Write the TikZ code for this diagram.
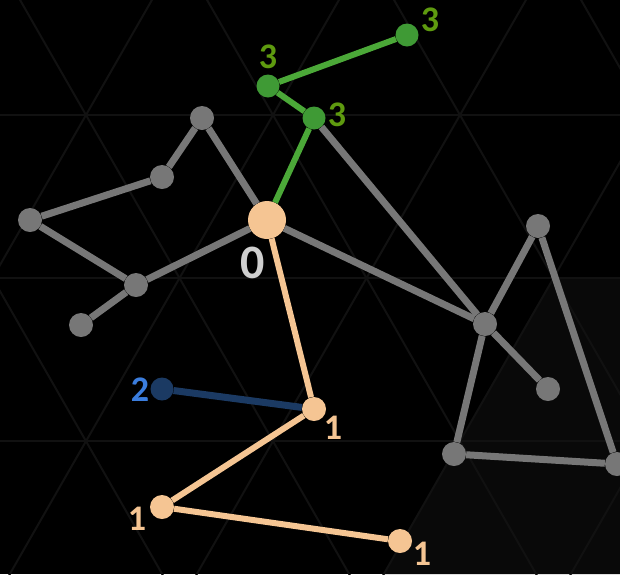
\documentclass[tikz,border=0pt]{standalone}
\usepackage{fontspec}
\setmainfont{Carlito}
\usepackage{tikz}

\definecolor{bgline}{HTML}{111111}
\definecolor{bgshade}{HTML}{090909}
\definecolor{nodegray}{HTML}{777777}
\definecolor{peach}{HTML}{F5C593}
\definecolor{grnode}{HTML}{3F9A35}
\definecolor{gredge}{HTML}{4BA838}
\definecolor{grlabel}{HTML}{5E9A0F}
\definecolor{navy}{HTML}{1B3A63}
\definecolor{bluelabel}{HTML}{3B7DDD}
\definecolor{rootlabel}{HTML}{CFCFCF}

\begin{document}
\begin{tikzpicture}[x=1pt,y=-1pt,
  v/.style={circle,fill=nodegray,inner sep=0pt,minimum size=24pt},
  root/.style={circle,fill=peach,inner sep=0pt,minimum size=38pt},
  pv/.style={circle,fill=peach,inner sep=0pt,minimum size=24pt},
  gv/.style={circle,fill=grnode,inner sep=0pt,minimum size=23pt},
  bv/.style={circle,fill=navy,inner sep=0pt,minimum size=23pt},
  e/.style={draw=nodegray,line width=7pt},
  pe/.style={draw=peach,line width=6pt},
  ge/.style={draw=gredge,line width=6pt},
  be/.style={draw=navy,line width=7pt},
  dist/.style={font=\fontsize{36}{36}\selectfont\bfseries}]

  % Background
  \fill[black] (0,0) rectangle (620,574);
  \useasboundingbox (0,0) rectangle (620,574);
  \begin{scope}
    \clip (0,0) rectangle (620,574);
    \fill[bgshade] (553,278) -- (620,278) -- (620,574) -- (383,574) -- cycle;
    \foreach \y in {115,278,441}
      \draw[bgline,line width=2pt] (0,\y) -- (620,\y);
    \foreach \k in {-3,...,4} {
      \draw[bgline,line width=2pt] (86+187*\k-344,-485) -- (86+187*\k+344,715);
      \draw[bgline,line width=2pt] (86+187*\k+344,-485) -- (86+187*\k-344,715);
    }
  \end{scope}

  % Root
  \node[root] (r) at (267,220) {};
  \node[dist,font=\fontsize{48}{48}\selectfont\bfseries,text=rootlabel] (lr) at (253,263) {0};

  % Gray nodes
  \node[v] (a) at (202,118) {};
  \node[v] (b) at (162,177) {};
  \node[v] (c) at (30,220) {};
  \node[v] (d) at (136,285) {};
  \node[v] (f) at (81,325) {};
  \node[v] (h) at (485,324) {};
  \node[v] (t) at (538,226) {};
  \node[v] (s) at (548,389) {};
  \node[v] (i) at (454,454) {};
  \node[v] (j) at (617,464) {};

  % Distance 3
  \node[gv] (g1) at (268,86) {};
  \node[gv] (g2) at (314,118) {};
  \node[gv] (g3) at (407,35) {};
  \node[dist,text=grlabel] (lg1) at (268,57) {3};
  \node[dist,text=grlabel] (lg2) at (337,115) {3};
  \node[dist,text=grlabel] (lg3) at (430,20) {3};

  % Distance 1
  \node[pv] (p1) at (314,409) {};
  \node[pv] (p2) at (162,507) {};
  \node[pv] (p3) at (400,541) {};
  \node[dist,text=peach] (lp1) at (333,428) {1};
  \node[dist,text=peach] (lp2) at (137,519) {1};
  \node[dist,text=peach] (lp3) at (422,554) {1};

  % Distance 2
  \node[bv] (q) at (162,389) {};
  \node[dist,text=bluelabel] (lq) at (140,390) {2};

  % Gray edges
  \draw[e] (r) -- (a);
  \draw[e] (a) -- (b);
  \draw[e] (b) -- (c);
  \draw[e] (c) -- (d);
  \draw[e] (d) -- (r);
  \draw[e] (d) -- (f);
  \draw[e] (r) -- (h);
  \draw[e] (g2) -- (h);
  \draw[e] (h) -- (t);
  \draw[e] (t) -- (j);
  \draw[e] (h) -- (s);
  \draw[e] (h) -- (i);
  \draw[e] (i) -- (j);

  % Colored edges
  \draw[ge] (r) -- (g2);
  \draw[ge] (g2) -- (g1);
  \draw[ge] (g1) -- (g3);
  \draw[pe] (r) -- (p1);
  \draw[pe] (p1) -- (p2);
  \draw[pe] (p2) -- (p3);
  \draw[be] (q) -- (p1);

\end{tikzpicture}
\end{document}
